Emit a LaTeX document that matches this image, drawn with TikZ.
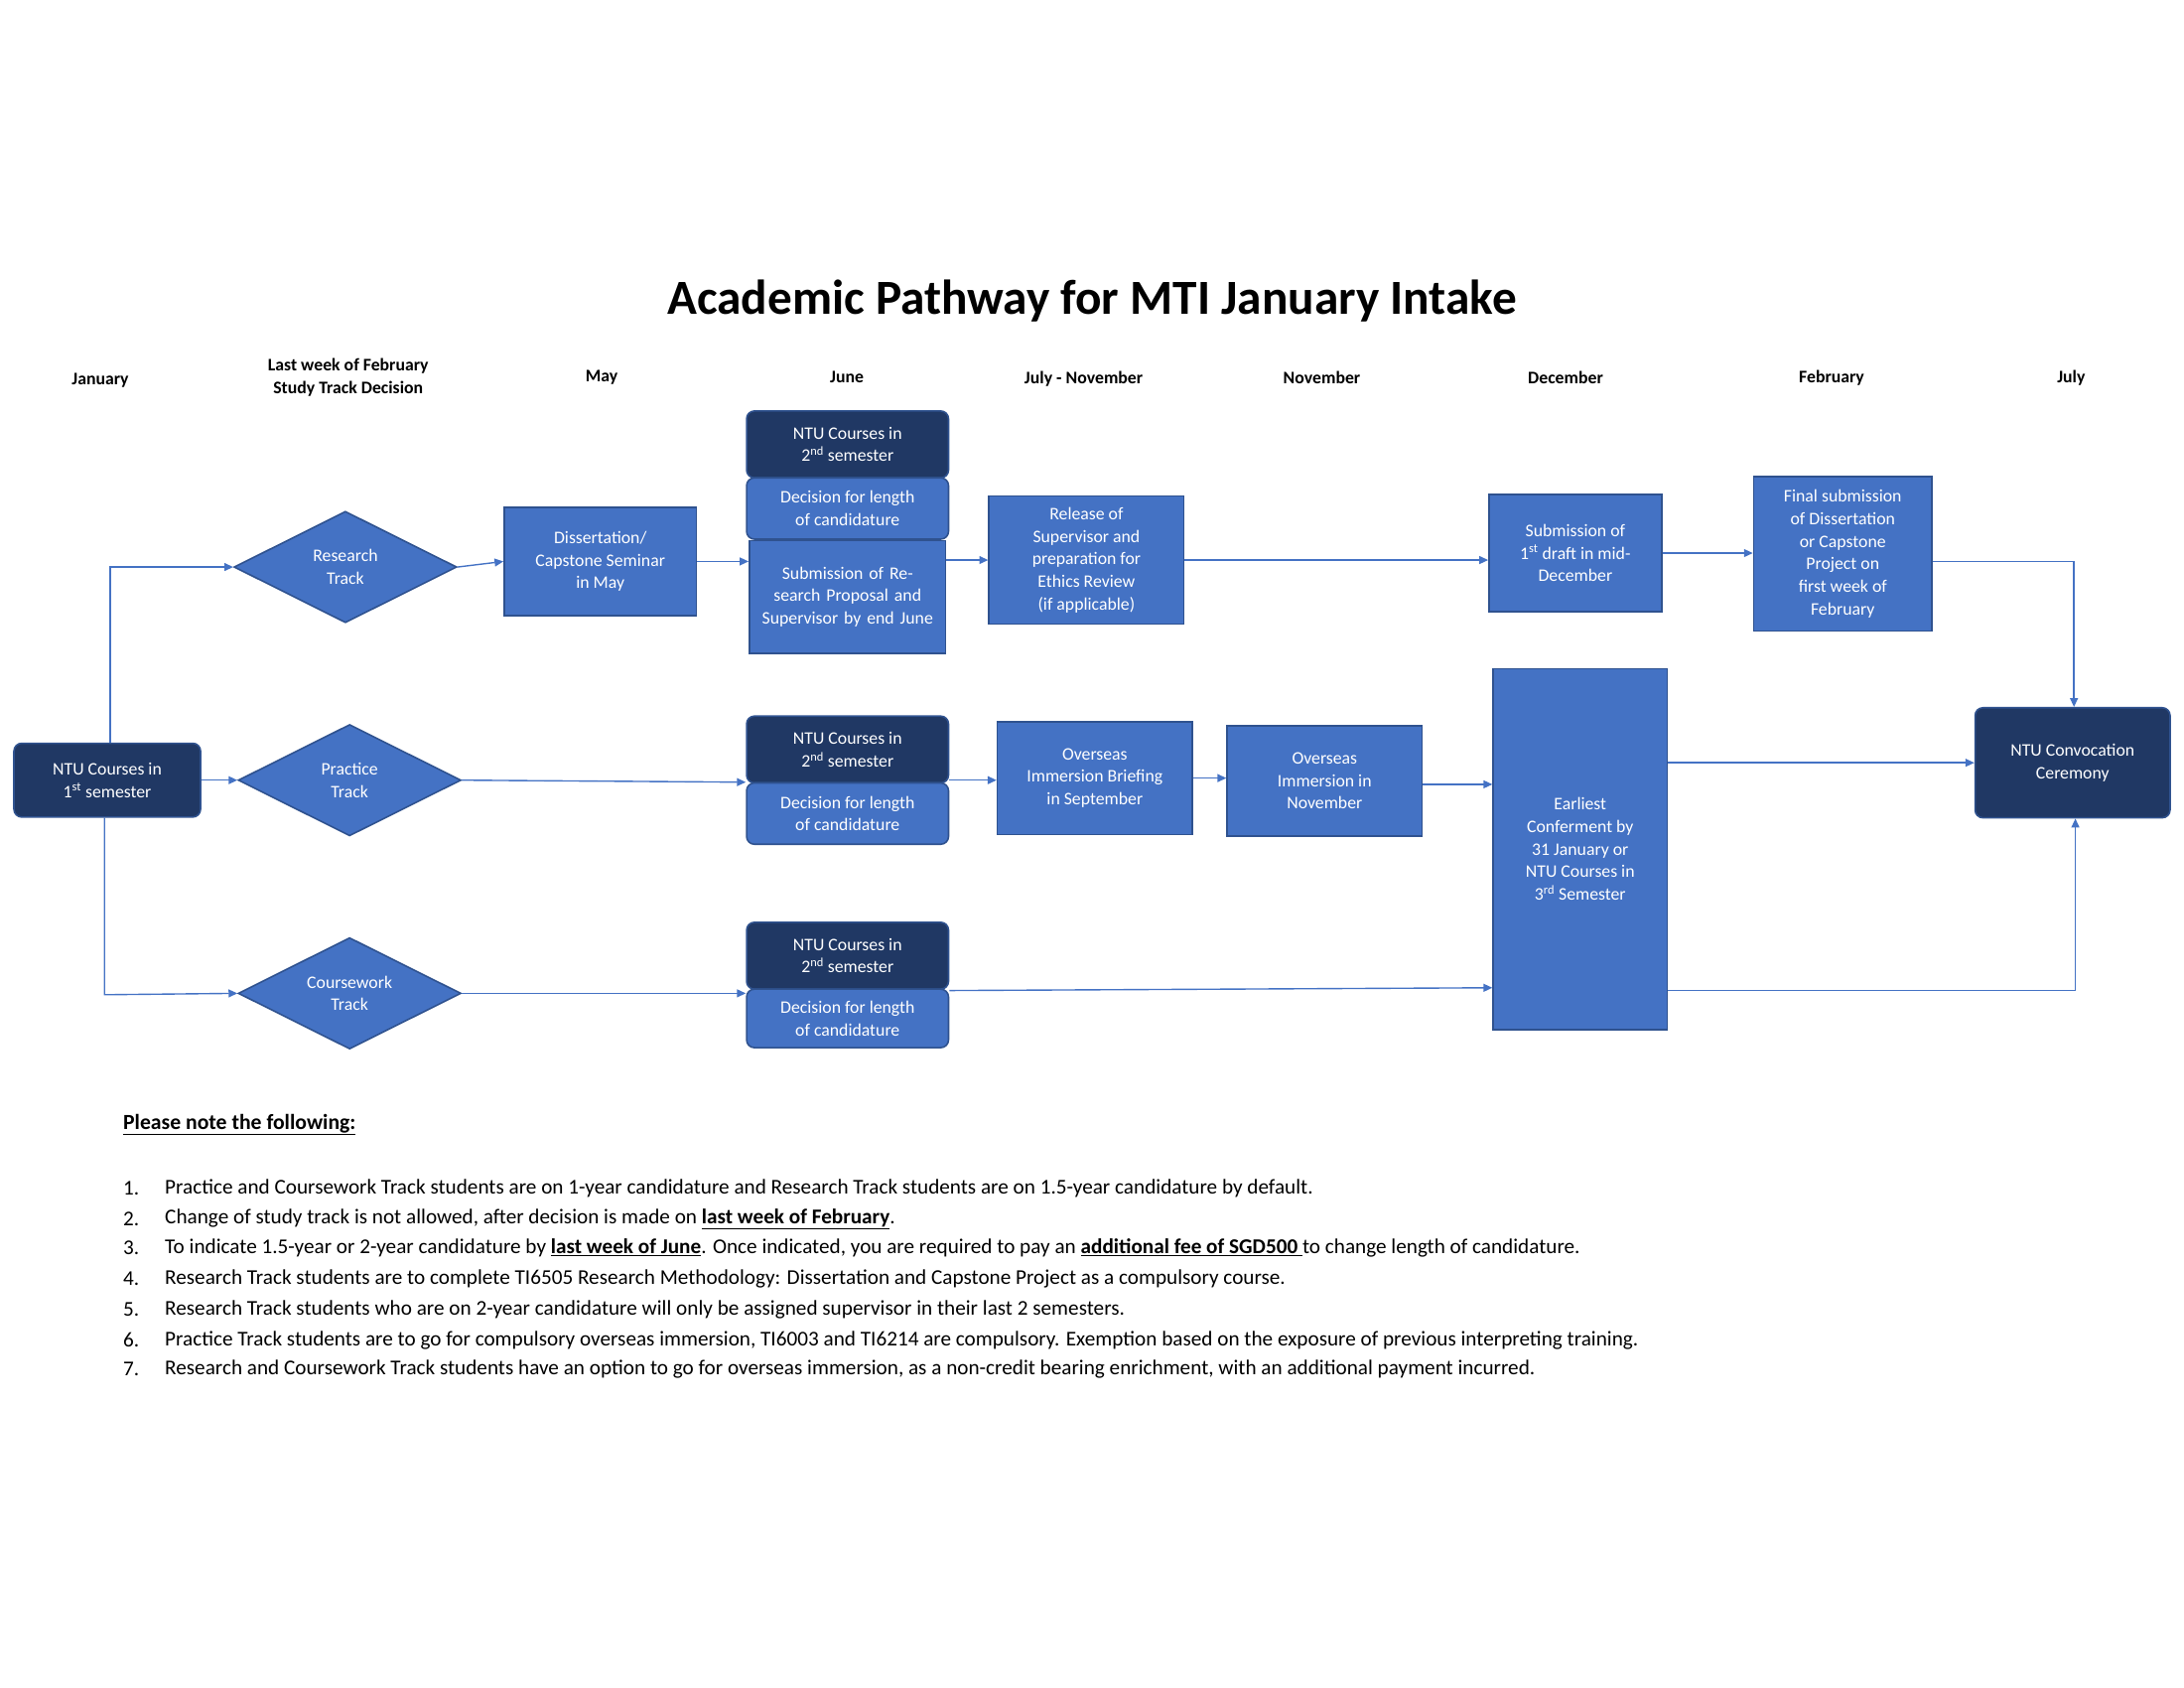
\documentclass[tikz,border=0pt]{standalone}
\usepackage{fontspec}
\setmainfont{Carlito}
\usetikzlibrary{shapes.geometric,arrows.meta}
\definecolor{mb}{HTML}{4472C4}
\definecolor{db}{HTML}{203864}
\definecolor{ob}{HTML}{2F528F}
\begin{document}
\begin{tikzpicture}[x=0.05cm,y=-0.05cm,
 bx/.style={draw=ob,line width=1.6pt,fill=mb,text=white,align=center,font=\fontsize{18}{23}\selectfont,inner sep=2pt},
 dk/.style={bx,fill=db,rounded corners=8pt},
 rd/.style={bx,rounded corners=8pt},
 dm/.style={bx,diamond,aspect=2,inner sep=0pt},
 hd/.style={font=\bfseries\fontsize{18}{23}\selectfont,align=center},
 ar/.style={draw=mb,line width=1.4pt,-{Triangle[length=9pt,width=8pt]}},
 ln/.style={draw=mb,line width=1.4pt}]
\useasboundingbox (0,0) rectangle (1568,1211);
\node[font=\bfseries\fontsize{50}{56}\selectfont] (title) at (784,216) {Academic Pathway for MTI January Intake};
\node[hd] (h1) at (72,273) {January};
\node[hd] (h2) at (250,271) {Last week of February\\Study Track Decision};
\node[hd] (h3) at (432,271) {May};
\node[hd] (h4) at (608,271) {June};
\node[hd] (h5) at (778,272) {July - November};
\node[hd] (h6) at (949,271) {November};
\node[hd] (h7) at (1124,271) {December};
\node[hd] (h8) at (1315,271) {February};
\node[hd] (h9) at (1487,271) {July};
% nodes
\node[dk,minimum width=6.7cm,minimum height=2.65cm] (ntu1) at (77,560) {NTU Courses in\\1\textsuperscript{st} semester};
\node[dm,minimum width=8cm,minimum height=4cm] (rt) at (248,407) {Research\\Track};
\node[dm,minimum width=8cm,minimum height=4cm] (pt) at (251,560) {Practice\\Track};
\node[dm,minimum width=8cm,minimum height=4cm] (ct) at (251,713) {Coursework\\Track};
\node[bx,minimum width=6.9cm,minimum height=3.9cm] (dis) at (431,403) {Dissertation/\\Capstone Seminar\\in May};
\node[dk,minimum width=7.25cm,minimum height=2.4cm] (a1) at (608.5,319) {NTU Courses in\\2\textsuperscript{nd} semester};
\node[rd,minimum width=7.25cm,minimum height=2.2cm] (a2) at (608.5,365) {Decision for length\\of candidature};
\node[bx,minimum width=7.05cm,minimum height=4.05cm,text width=6.6cm] (a3) at (608.5,428.5) {Submission of Research Proposal and Supervisor by end June};
\node[bx,minimum width=7cm,minimum height=4.6cm] (rel) at (780,402) {Release of\\Supervisor and\\preparation for\\Ethics Review\\(if applicable)};
\node[bx,minimum width=6.2cm,minimum height=4.2cm] (fd) at (1131,397) {Submission of\\1\textsuperscript{st} draft in mid-\\December};
\node[bx,minimum width=6.4cm,minimum height=5.55cm] (fs) at (1323,397.5) {Final submission\\of Dissertation\\or Capstone\\Project on\\first week of\\February};
\node[dk,minimum width=7cm,minimum height=3.95cm] (conv) at (1488,547.5) {NTU Convocation\\Ceremony};
\node[dk,minimum width=7.25cm,minimum height=2.4cm] (b1) at (608.5,538) {NTU Courses in\\2\textsuperscript{nd} semester};
\node[rd,minimum width=7.25cm,minimum height=2.2cm] (b2) at (608.5,584) {Decision for length\\of candidature};
\node[bx,minimum width=7cm,minimum height=4.05cm] (brf) at (786,558.5) {Overseas\\Immersion Briefing\\in September};
\node[bx,minimum width=7cm,minimum height=3.95cm] (imm) at (951,560.5) {Overseas\\Immersion in\\November};
\node[bx,minimum width=6.25cm,minimum height=12.95cm] (ear) at (1134.5,609.5) {Earliest\\Conferment by\\31 January or\\NTU Courses in\\3\textsuperscript{rd} Semester};
\node[dk,minimum width=7.25cm,minimum height=2.4cm] (c1) at (608.5,686) {NTU Courses in\\2\textsuperscript{nd} semester};
\node[rd,minimum width=7.25cm,minimum height=2.1cm] (c2) at (608.5,731) {Decision for length\\of candidature};
% connectors
\coordinate (p1) at (79,407);
\coordinate (p2) at (75,714);
\coordinate (p3) at (1489,403);
\coordinate (p4) at (1490,711);
\draw[ar] (ntu1.north -| p1) -- (p1) -- (rt.west);
\draw[ar] (ntu1.east) -- (pt.west);
\draw[ar] (ntu1.south -| p2) -- (p2) -- (ct.west);
\draw[ar] (rt.east) -- (dis.west);
\draw[ar] (dis.east) -- (dis.east -| a3.west);
\draw[ar] (a3.east |- rel.west) -- (rel.west);
\draw[ar] (rel.east) -- (fd.west |- rel.east);
\draw[ar] (fd.east) -- (fs.west |- fd.east);
\draw[ar] (fs.east |- p3) -- (p3) -- (conv.north -| p3);
\draw[ar] (pt.east) -- (b2.north west);
\draw[ar] (b2.east |- pt.east) -- (brf.west |- pt.east);
\draw[ar] (brf.east) -- (imm.west |- brf.east);
\draw[ar] (imm.east |- 0,563) -- (ear.west |- 0,563);
\draw[ar] (ct.east) -- (c2.west |- ct.east);
\draw[ar] (c2.east |- 0,711) -- (ear.west |- 0,709);
\draw[ar] (ear.east |- conv.west) -- (conv.west);
\draw[ar] (ear.east |- p4) -- (p4) -- (conv.south -| p4);
% notes
\node[anchor=west,font=\bfseries\fontsize{22}{26}\selectfont] (nt) at (86,807) {\underline{Please note the following:}};
\begin{scope}[every node/.style={anchor=west,font=\fontsize{21.5}{26}\selectfont}]
\node (n1) at (86,853) {1.};
\node (t1) at (116,853) {Practice and Coursework Track students are on 1-year candidature and Research Track students are on 1.5-year candidature by default.};
\node (n2) at (86,875) {2.};
\node (t2) at (116,875) {Change of study track is not allowed, after decision is made on \underline{\textbf{last week of February}}.};
\node (n3) at (86,896) {3.};
\node (t3) at (116,896) {To indicate 1.5-year or 2-year candidature by \underline{\textbf{last week of June}}. Once indicated, you are required to pay an \underline{\textbf{additional fee of SGD500 }}to change length of candidature.};
\node (n4) at (86,918) {4.};
\node (t4) at (116,918) {Research Track students are to complete TI6505 Research Methodology: Dissertation and Capstone Project as a compulsory course.};
\node (n5) at (86,940) {5.};
\node (t5) at (116,940) {Research Track students who are on 2-year candidature will only be assigned supervisor in their last 2 semesters.};
\node (n6) at (86,962) {6.};
\node (t6) at (116,962) {Practice Track students are to go for compulsory overseas immersion, TI6003 and TI6214 are compulsory. Exemption based on the exposure of previous interpreting training.};
\node (n7) at (86,983) {7.};
\node (t7) at (116,983) {Research and Coursework Track students have an option to go for overseas immersion, as a non-credit bearing enrichment, with an additional payment incurred.};
\end{scope}
\end{tikzpicture}
\end{document}
